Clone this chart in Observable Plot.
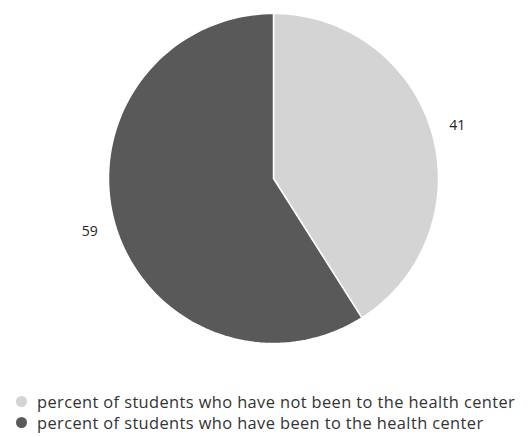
<!DOCTYPE html>
<html>
<head>
<meta charset="utf-8">
<script src="https://cdn.jsdelivr.net/npm/d3@7"></script>
<script src="https://cdn.jsdelivr.net/npm/@observablehq/plot@0.6"></script>
<style>
  html, body { margin: 0; padding: 0; background: #fff; }
  body { width: 530px; height: 437px; overflow: hidden; font-family: "Open Sans", sans-serif; }
  .legend { margin-top: 6px; padding-left: 16px; font-size: 16.4px; letter-spacing: 0.4px; color: #333; line-height: 21px; }
  .legend div { display: flex; align-items: center; white-space: nowrap; height: 21px; }
  .legend span.sw { display: inline-block; width: 11px; height: 11px; border-radius: 50%; margin-right: 10px; flex: none; }
</style>
</head>
<body>
<div id="chart"></div>
<script>
const categories = [
  "percent of students who have not been to the health center",
  "percent of students who have been to the health center"
];
const values = [41, 59];
const colors = ["#d4d4d4", "#595959"];

const data = categories.map((c, i) => ({category: c, value: values[i]}));
const arcs = d3.pie().sort(null).value(d => d.value)(data);

const pts = [];
arcs.forEach(a => {
  const n = 120;
  pts.push({category: a.data.category, x: 0, y: 0});
  for (let k = 0; k <= n; k++) {
    const t = a.startAngle + (a.endAngle - a.startAngle) * k / n;
    pts.push({category: a.data.category, x: Math.sin(t), y: Math.cos(t)});
  }
});
const labels = arcs.map(a => {
  const m = (a.startAngle + a.endAngle) / 2;
  return {text: String(a.data.value), x: 1.16 * Math.sin(m), y: 1.16 * Math.cos(m)};
});

const plot = Plot.plot({
  width: 530,
  height: 385,
  marginLeft: 108,
  marginRight: 92,
  marginTop: 13,
  marginBottom: 42,
  x: {domain: [-1, 1], axis: null},
  y: {domain: [-1, 1], axis: null},
  color: {domain: categories, range: colors},
  style: {fontFamily: "Open Sans, sans-serif", background: "#fff"},
  marks: [
    Plot.line(pts, {x: "x", y: "y", z: "category", fill: "category", stroke: "white", strokeWidth: 1.5, curve: "linear-closed"}),
    Plot.text(labels, {x: "x", y: "y", text: "text", fontSize: 14, fill: "#222"})
  ]
});
document.getElementById("chart").appendChild(plot);

const legend = document.createElement("div");
legend.className = "legend";
categories.forEach((c, i) => {
  const row = document.createElement("div");
  const sw = document.createElement("span");
  sw.className = "sw";
  sw.style.background = colors[i];
  row.appendChild(sw);
  row.appendChild(document.createTextNode(c));
  legend.appendChild(row);
});
document.body.appendChild(legend);
</script>
</body>
</html>
